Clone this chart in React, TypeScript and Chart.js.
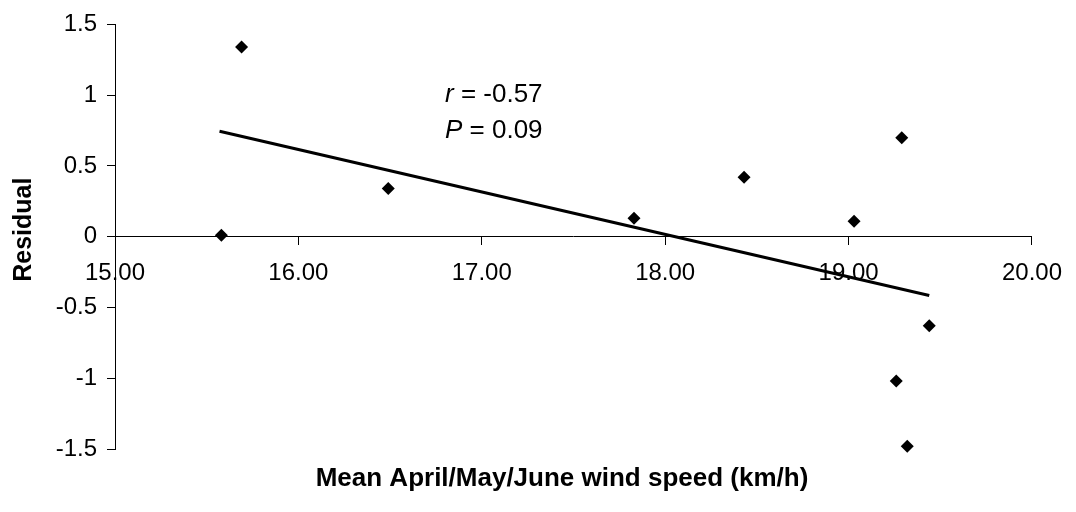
import React, { useEffect, useRef } from "react";
import { Chart, registerables } from "chart.js";

Chart.register(...registerables);

// Mean April/May/June wind speed (km/h) and residuals
const windSpeed = [15.58, 15.69, 16.49, 17.83, 18.43, 19.03, 19.29, 19.26, 19.32, 19.44];
const residual = [0.01, 1.34, 0.34, 0.13, 0.42, 0.11, 0.70, -1.02, -1.48, -0.63];

// regression line end points as drawn
const trendX = [15.57, 19.44];
const trendY = [0.745, -0.415];

const xTicks = [15, 16, 17, 18, 19, 20];
const yTicks = [-1.5, -1, -0.5, 0, 0.5, 1, 1.5];

const xTitle = "Mean April/May/June wind speed (km/h)";
const yTitle = "Residual";
const statLines = [
  { italic: "r", rest: " = -0.57" },
  { italic: "P", rest: " = 0.09" },
];

const FONT = "'Liberation Sans', Arial, sans-serif";

const textPlugin = {
  id: "customText",
  afterDraw(chart: any) {
    const ctx = chart.ctx as CanvasRenderingContext2D;
    const area = chart.chartArea;
    ctx.save();
    ctx.fillStyle = "#000";
    // x title
    ctx.font = `bold 26px ${FONT}`;
    ctx.textAlign = "center";
    ctx.textBaseline = "alphabetic";
    ctx.fillText(xTitle, 562, 486);
    // y title
    ctx.save();
    ctx.font = `bold 25px ${FONT}`;
    ctx.translate(24, (area.top + area.bottom) / 2 - 7);
    ctx.rotate(-Math.PI / 2);
    ctx.textBaseline = "middle";
    ctx.fillText(yTitle, 0, 0);
    ctx.restore();
    // statistics text
    ctx.textAlign = "left";
    ctx.textBaseline = "alphabetic";
    const sx = 445;
    const baselines = [102, 138];
    statLines.forEach((ln, i) => {
      ctx.font = `italic 26px ${FONT}`;
      ctx.fillText(ln.italic, sx, baselines[i]);
      const w = ctx.measureText(ln.italic).width;
      ctx.font = `26px ${FONT}`;
      ctx.fillText(ln.rest, sx + w, baselines[i]);
    });
    ctx.restore();
  },
};

export default function App() {
  const ref = useRef<HTMLCanvasElement>(null);
  useEffect(() => {
    if (!ref.current) return;
    const points = windSpeed.map((x, i) => ({ x, y: residual[i] }));
    const trend = trendX.map((x, i) => ({ x, y: trendY[i] }));
    const chart = new Chart(ref.current, {
      type: "scatter",
      data: {
        datasets: [
          {
            label: "Residual",
            data: points,
            pointStyle: "rectRot",
            pointRadius: 6.5,
            backgroundColor: "#000",
            borderColor: "#000",
            borderWidth: 0,
            clip: false,
          },
          {
            label: "Trend",
            data: trend,
            showLine: true,
            pointRadius: 0,
            borderColor: "#000",
            borderWidth: 3,
            clip: false,
          },
        ],
      },
      options: {
        responsive: false,
        animation: false,
        devicePixelRatio: 1,
        layout: { padding: { top: 21, right: 44, bottom: 63, left: 0 } },
        plugins: { legend: { display: false }, tooltip: { enabled: false } },
        scales: {
          x: {
            type: "linear",
            position: { y: 0 } as any,
            min: 15,
            max: 20,
            afterBuildTicks: (s: any) => {
              s.ticks = xTicks.map((v) => ({ value: v }));
            },
            ticks: {
              color: "#000",
              font: { family: FONT, size: 24 },
              padding: 14,
              maxRotation: 0,
              callback: (v: any) => Number(v).toFixed(2),
            },
            grid: { drawOnChartArea: false, drawTicks: true, tickLength: 8, color: "#000" },
            border: { display: true, color: "#000", width: 1 },
          },
          y: {
            type: "linear",
            position: "left",
            min: -1.5,
            max: 1.5,
            afterBuildTicks: (s: any) => {
              s.ticks = yTicks.map((v) => ({ value: v }));
            },
            afterFit: (s: any) => {
              s.width = 115;
            },
            ticks: {
              color: "#000",
              font: { family: FONT, size: 24 },
              padding: 10,
              callback: (v: any) => String(v),
            },
            grid: { drawOnChartArea: false, drawTicks: true, tickLength: 8, color: "#000" },
            border: { display: true, color: "#000", width: 1 },
          },
        },
      },
      plugins: [textPlugin],
    });
    return () => chart.destroy();
  }, []);
  return (
    <div style={{ position: "absolute", left: 0, top: 0, width: 1076, height: 512, background: "#fff" }}>
      <canvas ref={ref} width={1076} height={512} style={{ display: "block" }} />
    </div>
  );
}
